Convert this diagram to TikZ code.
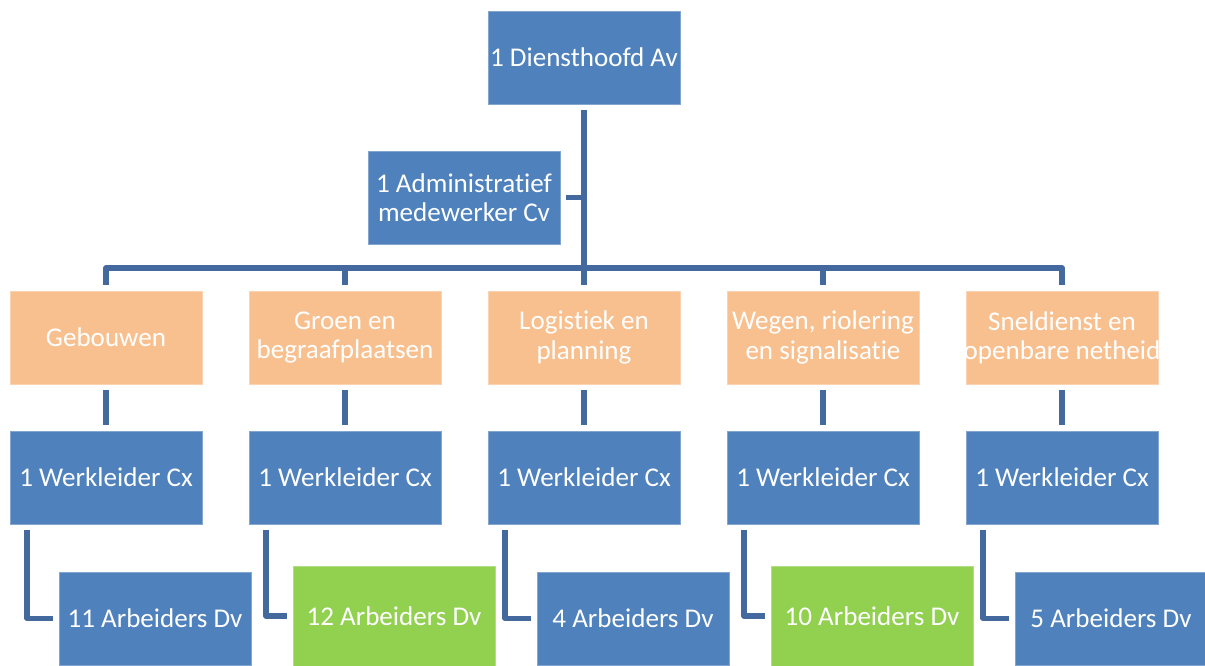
\documentclass[tikz,border=0pt]{standalone}
\usepackage{fontspec}
\setmainfont{Carlito}[Ligatures=NoCommon]
\usetikzlibrary{calc}
\definecolor{boxblue}{HTML}{4F81BD}
\definecolor{linkblue}{HTML}{44699E}
\definecolor{dienstorange}{HTML}{F9C08F}
\definecolor{ploeggreen}{HTML}{92D050}
\tikzset{
  box/.style={rectangle,fill=boxblue,draw=boxblue!70!white,line width=0.4pt,
    minimum width=144pt,minimum height=69.75pt,inner sep=0pt,outer sep=4.5pt,
    text=white,align=center,font=\fontsize{20.3}{22}\selectfont},
  dienst/.style={box,fill=dienstorange,draw=dienstorange!70!white},
  ploeg/.style={box,fill=ploeggreen,draw=ploeggreen!70!white,
    minimum width=151.5pt,minimum height=75pt},
  link/.style={draw=linkblue,line width=4pt,line join=round},
}
\begin{document}
\begin{tikzpicture}[x=0.75pt,y=-0.75pt]
%%
\useasboundingbox (0,0) rectangle (1205,666);
  \node (Head) at (584,57.5) [box] {1 Diensthoofd Av};
  \node (Admin) at (464,197.5) [box] {1 Administratief\\medewerker Cv};
  \coordinate (Bus) at (584,268);
%
  \node (Geb) at (106,337.5) [dienst] {Gebouwen};
  \node (Groen) at (345,337.5) [dienst] {Groen en\\begraafplaatsen};
  \node (Log) at (584,337.5) [dienst] {Logistiek en\\planning};
  \node (Weg) at (823,337.5) [dienst] {Wegen, riolering\\en signalisatie};
  \node (Snel) at (1062,337.5) [dienst] {Sneldienst en\\\makebox[0pt]{openbare netheid}};
%
  \node (WkGeb) at (106,477.5) [box] {1 Werkleider Cx};
  \node (WkGroen) at (345,477.5) [box] {1 Werkleider Cx};
  \node (WkLog) at (584,477.5) [box] {1 Werkleider Cx};
  \node (WkWeg) at (823,477.5) [box] {1 Werkleider Cx};
  \node (WkSnel) at (1062,477.5) [box] {1 Werkleider Cx};
%
  \node (ArbGeb) at (155,618.5) [box] {11 Arbeiders Dv};
  \node (ArbGroen) at (394,616) [ploeg] {12 Arbeiders Dv};
  \node (ArbLog) at (633,618.5) [box] {4 Arbeiders Dv};
  \node (ArbWeg) at (872,616) [ploeg] {10 Arbeiders Dv};
  \node (ArbSnel) at (1111,618.5) [box] {5 Arbeiders Dv};
%
  \draw [link] (Head.south) -- (Bus);
  \draw [link] (Admin.east) -- (Admin.east -| Bus);
  \draw [link] (Geb.north) |- (Bus) -| (Snel.north);
  \draw [link] (Groen.north) -- (Groen.north |- Bus);
  \draw [link] (Log.north) -- (Bus);
  \draw [link] (Weg.north) -- (Weg.north |- Bus);
%
  \draw [link] (Geb) -- (WkGeb);
  \draw [link] (Groen) -- (WkGroen);
  \draw [link] (Log) -- (WkLog);
  \draw [link] (Weg) -- (WkWeg);
  \draw [link] (Snel) -- (WkSnel);
%
  \draw [link] ($(WkGeb.south west)+(23,0)$) |- (ArbGeb.west);
  \draw [link] ($(WkGroen.south west)+(23,0)$) |- (ArbGroen.west);
  \draw [link] ($(WkLog.south west)+(23,0)$) |- (ArbLog.west);
  \draw [link] ($(WkWeg.south west)+(23,0)$) |- (ArbWeg.west);
  \draw [link] ($(WkSnel.south west)+(23,0)$) |- (ArbSnel.west);
%
\end{tikzpicture}
\end{document}
